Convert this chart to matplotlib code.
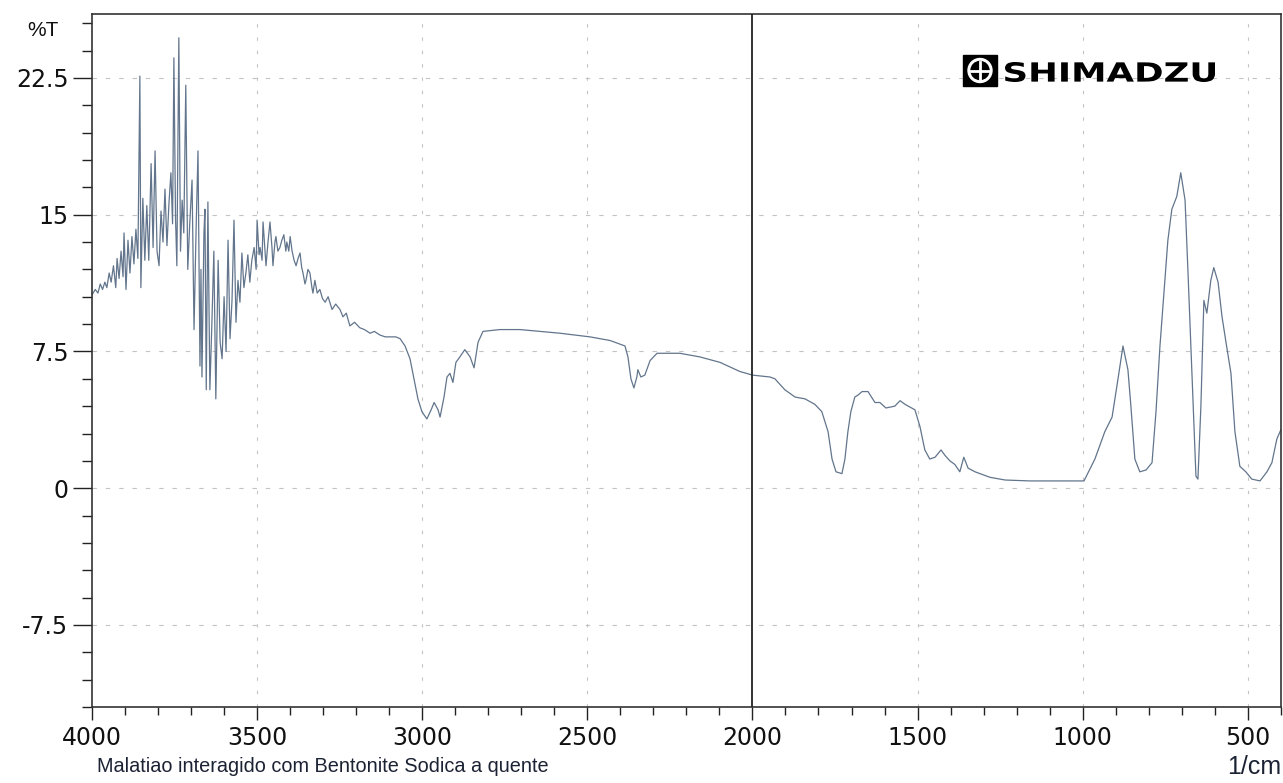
import numpy as np
import matplotlib
matplotlib.use('Agg')
import matplotlib.pyplot as plt
from matplotlib.ticker import MultipleLocator
from matplotlib.textpath import TextPath
from matplotlib.patches import PathPatch, Rectangle, Circle
from matplotlib.font_manager import FontProperties
from matplotlib.transforms import Affine2D
from matplotlib.lines import Line2D

# spectrum (wavenumber 1/cm, %T)
wavenumber = [
    4000, 3990, 3982, 3975, 3968, 3961, 3955, 3948, 3942, 3935, 3928, 3924,
    3918, 3912, 3906, 3903, 3897, 3891, 3885, 3879, 3873, 3867, 3861, 3855,
    3852, 3846, 3840, 3834, 3828, 3821, 3815, 3809, 3803, 3797, 3791, 3785,
    3779, 3773, 3767, 3761, 3756, 3752, 3747, 3743, 3737, 3732, 3727, 3722,
    3716, 3710, 3704, 3697, 3691, 3685, 3679, 3673, 3670, 3667, 3661, 3658,
    3654, 3649, 3643, 3637, 3631, 3625, 3618, 3612, 3606, 3600, 3594, 3588,
    3582, 3576, 3570, 3564, 3558, 3552, 3546, 3540, 3534, 3528, 3522, 3516,
    3509, 3503, 3500, 3494, 3491, 3485, 3482, 3476, 3473, 3467, 3461, 3455,
    3452, 3446, 3443, 3437, 3431, 3425, 3419, 3413, 3410, 3404, 3400, 3394,
    3388, 3382, 3376, 3370, 3365, 3361, 3355, 3352, 3346, 3340, 3334, 3331,
    3325, 3318, 3310, 3302, 3294, 3285, 3273, 3262, 3249, 3240, 3230, 3219,
    3205, 3189, 3175, 3158, 3145, 3128, 3112, 3098, 3080, 3067, 3052, 3037,
    3025, 3013, 3001, 2986, 2973, 2964, 2952, 2946, 2934, 2925, 2916, 2907,
    2898, 2886, 2871, 2855, 2843, 2831, 2816, 2765, 2704, 2643, 2583, 2492,
    2431, 2386, 2377, 2368, 2359, 2350, 2347, 2338, 2326, 2310, 2289, 2220,
    2159, 2098, 2038, 1999, 1947, 1932, 1902, 1871, 1841, 1811, 1790, 1771,
    1759, 1747, 1729, 1720, 1711, 1702, 1690, 1681, 1668, 1650, 1629, 1614,
    1596, 1569, 1553, 1538, 1508, 1493, 1478, 1463, 1447, 1429, 1417, 1402,
    1387, 1372, 1360, 1347, 1326, 1281, 1235, 1160, 996, 963, 933, 911,
    893, 878, 863, 854, 842, 827, 808, 790, 778, 766, 751, 742,
    730, 715, 703, 690, 681, 669, 657, 651, 642, 633, 624, 612,
    603, 590, 578, 566, 551, 539, 524, 506, 488, 463, 442, 427,
    412, 400,
]
transmittance = [
    10.6, 10.9, 10.7, 11.2, 10.9, 11.3, 11.0, 11.8, 11.3, 12.2, 11.0, 12.6,
    11.5, 13.0, 11.6, 14.0, 10.9, 13.6, 11.8, 13.8, 12.3, 14.2, 12.6, 22.6,
    11.0, 15.9, 12.5, 15.5, 12.5, 17.8, 13.2, 18.5, 13.0, 12.2, 15.2, 13.5,
    16.4, 13.3, 15.6, 17.3, 14.5, 23.6, 14.8, 12.2, 24.7, 13.0, 15.8, 14.0,
    22.1, 12.0, 14.5, 16.9, 8.7, 14.0, 18.5, 6.7, 12.0, 6.1, 14.0, 15.3,
    5.4, 15.7, 5.4, 9.0, 13.0, 4.9, 12.5, 8.0, 7.1, 10.5, 7.5, 13.6,
    8.2, 10.3, 14.7, 9.1, 11.4, 10.2, 12.9, 11.0, 11.8, 12.8, 11.3, 12.5,
    13.2, 12.0, 14.7, 12.8, 13.2, 12.5, 14.6, 13.0, 12.2, 13.5, 14.6, 13.2,
    12.2, 13.5, 13.8, 13.0, 13.2, 13.6, 13.9, 13.0, 13.5, 13.0, 13.8, 13.0,
    12.5, 12.2, 12.6, 12.9, 12.1, 11.8, 11.2, 11.4, 12.0, 11.8, 11.0, 10.7,
    11.4, 10.7, 10.9, 10.4, 10.2, 10.5, 9.8, 10.1, 9.8, 9.4, 9.6, 8.9,
    9.1, 8.8, 8.7, 8.5, 8.6, 8.4, 8.3, 8.3, 8.3, 8.2, 7.8, 7.1,
    6.0, 4.9, 4.2, 3.8, 4.3, 4.7, 4.3, 3.9, 5.0, 6.1, 6.3, 5.8,
    6.9, 7.2, 7.6, 7.2, 6.6, 8.0, 8.6, 8.7, 8.7, 8.6, 8.5, 8.3,
    8.1, 7.8, 7.2, 6.0, 5.5, 6.1, 6.5, 6.1, 6.2, 7.0, 7.4, 7.4,
    7.2, 6.9, 6.4, 6.2, 6.1, 6.0, 5.4, 5.0, 4.9, 4.6, 4.2, 3.1,
    1.6, 0.9, 0.8, 1.6, 3.1, 4.2, 5.0, 5.1, 5.3, 5.3, 4.7, 4.7,
    4.4, 4.5, 4.8, 4.6, 4.3, 3.4, 2.1, 1.6, 1.7, 2.1, 1.8, 1.5,
    1.3, 0.9, 1.7, 1.1, 0.9, 0.6, 0.45, 0.4, 0.4, 1.6, 3.1, 3.9,
    6.0, 7.8, 6.5, 4.5, 1.6, 0.9, 1.0, 1.4, 4.2, 7.8, 11.4, 13.6,
    15.3, 16.0, 17.3, 15.8, 11.8, 6.3, 0.66, 0.5, 4.5, 10.3, 9.6, 11.4,
    12.1, 11.3, 9.4, 8.0, 6.3, 3.1, 1.2, 0.9, 0.5, 0.4, 0.9, 1.4,
    2.7, 3.2,
]
y_ticks = [-7.5, 0, 7.5, 15, 22.5]
y_tick_labels = ['-7.5', '0', '7.5', '15', '22.5']
x_ticks = [4000, 3500, 3000, 2500, 2000, 1500, 1000, 500]

plt.rcParams['font.family'] = ['Liberation Sans', 'DejaVu Sans']

fig = plt.figure(figsize=(12.83, 7.83), dpi=100)
ax = fig.add_axes([0.0717, 0.097, 0.9266, 0.885])

ax.plot(wavenumber, transmittance, color='#62758c', lw=0.9)
ax.axvline(2000, color='#222222', lw=1.3, zorder=3)

ax.set_xlim(4000, 400)
ax.set_ylim(-12, 26)
ax.set_xticks(x_ticks)
ax.set_xticklabels([str(t) for t in x_ticks], fontfamily='DejaVu Sans')
ax.set_yticks(y_ticks)
ax.set_yticklabels(y_tick_labels, fontfamily='DejaVu Sans')
ax.xaxis.set_minor_locator(MultipleLocator(100))
ax.yaxis.set_minor_locator(MultipleLocator(1.5))
ax.tick_params(axis='both', which='major', direction='out', labelsize=17,
               width=1.0, color='#222222', labelcolor='#111111')
ax.tick_params(axis='y', which='major', length=14, pad=3)
ax.tick_params(axis='y', which='minor', length=7, width=1.0, color='#222222')
ax.tick_params(axis='x', which='major', length=9, pad=5)
ax.tick_params(axis='x', which='minor', length=6, width=1.0, color='#222222')

for gx in [3500, 3000, 2500, 1500, 1000, 500]:
    ax.axvline(gx, color='#c4c4c4', lw=0.8, ls=(0, (3, 9)), zorder=0)
for gy in y_ticks:
    ax.axhline(gy, color='#c4c4c4', lw=0.8, ls=(0, (4, 8)), zorder=0)

for s in ax.spines.values():
    s.set_color('#333333')
    s.set_linewidth(1.2)

fig.text(27 / 1283, 1 - 30 / 783, '%T', fontsize=15, va='center', ha='left',
         color='#111111')
fig.text(97 / 1283, 1 - 766 / 783, 'Malatiao interagido com Bentonite Sodica a quente',
         fontsize=14.3, va='center', ha='left', color='#1b2233')
fig.text(1281 / 1283, 1 - 767 / 783, '1/cm', fontsize=18, va='center',
         ha='right', color='#1b2233')

# SHIMADZU logo, placed in inches from the lower left corner
H = 7.83
fig.add_artist(Rectangle((9.63, H - 0.86), 0.34, 0.31, transform=fig.dpi_scale_trans,
                         color='black'))
cx, cy = 9.80, H - 0.705
fig.add_artist(Circle((cx, cy), 0.12, transform=fig.dpi_scale_trans, color='white'))
fig.add_artist(Circle((cx, cy), 0.09, transform=fig.dpi_scale_trans, color='black'))
fig.add_artist(Line2D([cx - 0.09, cx + 0.09], [cy, cy], transform=fig.dpi_scale_trans,
                      color='white', lw=2))
fig.add_artist(Line2D([cx, cx], [cy - 0.09, cy + 0.09], transform=fig.dpi_scale_trans,
                      color='white', lw=2))

tp = TextPath((0, 0), 'SHIMADZU', size=1,
              prop=FontProperties(family='DejaVu Sans', weight='bold'))
ext = tp.get_extents()
sx = 2.10 / ext.width
sy = 0.20 / ext.height
tr = Affine2D().translate(-ext.x0, -ext.y0).scale(sx, sy).translate(10.05, H - 0.82)
fig.add_artist(PathPatch(tp, transform=tr + fig.dpi_scale_trans, color='black', lw=0))

fig.savefig('out.png', dpi=100)
